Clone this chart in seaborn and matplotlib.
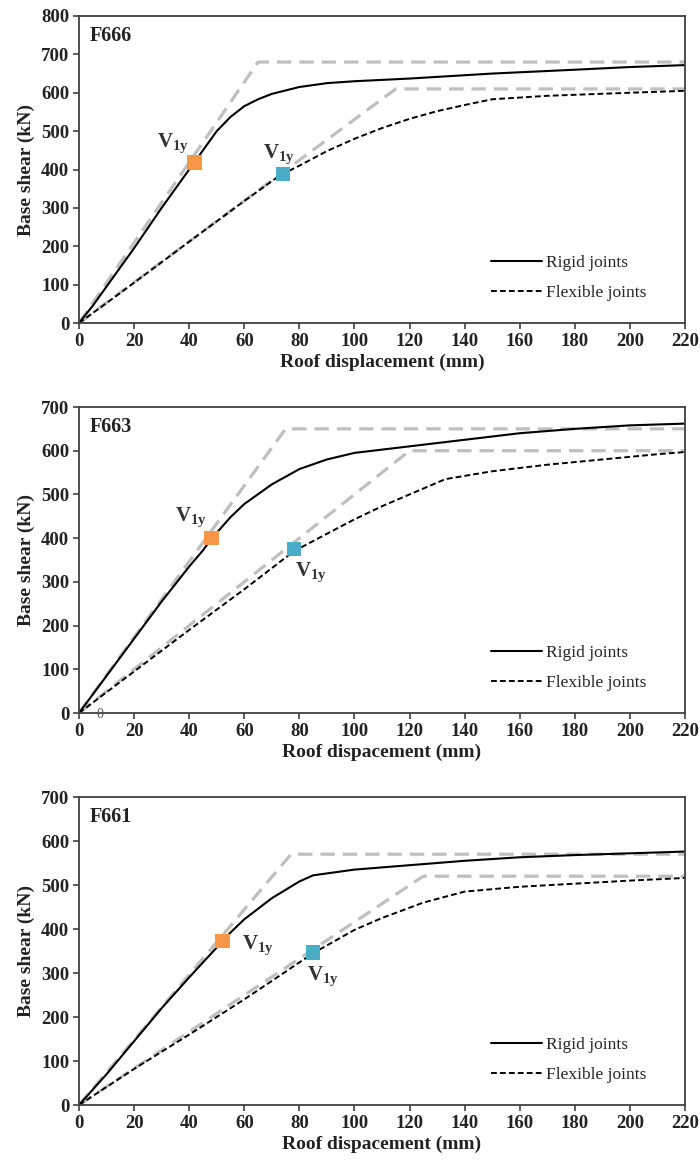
import matplotlib
matplotlib.use("Agg")
import matplotlib.pyplot as plt
import seaborn as sns
import pandas as pd

# ---------------- data ----------------
panel_names = ["F666", "F663", "F661"]
y_max = [800, 700, 700]
x_labels = ["Roof displacement (mm)", "Roof dispacement (mm)", "Roof dispacement (mm)"]

# F666
f666_rigid_x = [0, 5, 10, 20, 30, 40, 45, 50, 55, 60, 65, 70, 80, 90, 100, 120, 150, 180, 200, 220]
f666_rigid_y = [0, 45, 95, 195, 300, 400, 450, 500, 537, 565, 583, 597, 615, 625, 630, 637, 650, 660, 667, 672]
f666_flex_x = [0, 10, 20, 40, 60, 73, 80, 90, 100, 110, 120, 130, 140, 150, 170, 200, 220]
f666_flex_y = [0, 52, 105, 212, 318, 385, 410, 448, 480, 508, 532, 552, 568, 583, 592, 600, 605]
f666_bil_rigid_x = [0, 65, 220]
f666_bil_rigid_y = [0, 680, 680]
f666_bil_flex_x = [0, 115, 220]
f666_bil_flex_y = [0, 610, 610]
f666_v1y_rigid = (42, 418)
f666_v1y_flex = (74, 388)

# F663
f663_rigid_x = [0, 10, 20, 30, 40, 45, 48, 55, 60, 70, 80, 90, 100, 120, 140, 160, 180, 200, 220]
f663_rigid_y = [0, 85, 170, 255, 335, 372, 398, 448, 478, 523, 558, 580, 595, 610, 625, 640, 650, 658, 662]
f663_flex_x = [0, 20, 40, 60, 78, 90, 100, 110, 120, 133, 150, 170, 190, 210, 220]
f663_flex_y = [0, 95, 190, 283, 370, 410, 443, 473, 500, 535, 553, 568, 580, 592, 597]
f663_bil_rigid_x = [0, 75, 220]
f663_bil_rigid_y = [0, 650, 650]
f663_bil_flex_x = [0, 120, 220]
f663_bil_flex_y = [0, 600, 600]
f663_v1y_rigid = (48, 400)
f663_v1y_flex = (78, 375)

# F661
f661_rigid_x = [0, 10, 20, 30, 40, 50, 55, 60, 70, 80, 85, 100, 120, 140, 160, 180, 200, 220]
f661_rigid_y = [0, 70, 145, 220, 290, 358, 392, 422, 470, 508, 522, 535, 545, 555, 563, 568, 572, 576]
f661_flex_x = [0, 20, 40, 60, 85, 100, 110, 125, 140, 160, 180, 200, 220]
f661_flex_y = [0, 82, 160, 240, 345, 398, 425, 460, 485, 496, 503, 510, 516]
f661_bil_rigid_x = [0, 77, 220]
f661_bil_rigid_y = [0, 570, 570]
f661_bil_flex_x = [0, 125, 220]
f661_bil_flex_y = [0, 520, 520]
f661_v1y_rigid = (52, 373)
f661_v1y_flex = (85, 347)

panels = [
    (f666_rigid_x, f666_rigid_y, f666_flex_x, f666_flex_y, f666_bil_rigid_x, f666_bil_rigid_y,
     f666_bil_flex_x, f666_bil_flex_y, f666_v1y_rigid, f666_v1y_flex),
    (f663_rigid_x, f663_rigid_y, f663_flex_x, f663_flex_y, f663_bil_rigid_x, f663_bil_rigid_y,
     f663_bil_flex_x, f663_bil_flex_y, f663_v1y_rigid, f663_v1y_flex),
    (f661_rigid_x, f661_rigid_y, f661_flex_x, f661_flex_y, f661_bil_rigid_x, f661_bil_rigid_y,
     f661_bil_flex_x, f661_bil_flex_y, f661_v1y_rigid, f661_v1y_flex),
]

# label positions (data coords) for V1y texts
v1y_label_rigid = [(28.3, 469, "left"), (34.9, 448, "left"), (59.2, 364, "left")]
v1y_label_flex = [(66.8, 440, "left"), (78.4, 322, "left"), (82.8, 293, "left")]

# ---------------- style ----------------
sns.set_style("ticks")
plt.rcParams["font.family"] = ["Liberation Serif", "DejaVu Serif"]
plt.rcParams["mathtext.fontset"] = "custom"
plt.rcParams["mathtext.rm"] = "Liberation Serif"
plt.rcParams["mathtext.bf"] = "Liberation Serif:bold"
plt.rcParams["mathtext.it"] = "Liberation Serif:italic"

ORANGE = "#F79646"
BLUE = "#4BACC6"
GREY = "#BFBFBF"
AXC = "#404040"

fig = plt.figure(figsize=(7.0, 11.64), dpi=100)
W, H = 700.0, 1164.0
boxes = [(79, 16, 323), (79, 407, 713), (79, 797, 1105)]
right = 685

for i, (box, data) in enumerate(zip(boxes, panels)):
    l, t, b = box
    ax = fig.add_axes([l / W, (H - b) / H, (right - l) / W, (b - t) / H])
    (rx, ry, fx, fy, brx, bry, bfx, bfy, vr, vf) = data

    # bilinear idealisations (grey dashed)
    sns.lineplot(x=brx, y=bry, ax=ax, color=GREY, linewidth=2.3, sort=False, legend=False)
    ax.lines[-1].set_dashes((4.5, 2.5))
    sns.lineplot(x=bfx, y=bfy, ax=ax, color=GREY, linewidth=2.3, sort=False, legend=False)
    ax.lines[-1].set_dashes((4.5, 2.5))

    # capacity curves
    sns.lineplot(x=rx, y=ry, ax=ax, color="black", linewidth=1.5, sort=False, label="Rigid joints")
    h_r = ax.lines[-1]
    sns.lineplot(x=fx, y=fy, ax=ax, color="black", linewidth=1.4, sort=False, label="Flexible joints")
    h_f = ax.lines[-1]
    h_f.set_dashes((3, 1.6))

    # V1y markers
    sns.scatterplot(x=[vr[0]], y=[vr[1]], ax=ax, marker="s", s=110, color=ORANGE,
                    edgecolor="none", zorder=5, legend=False)
    sns.scatterplot(x=[vf[0]], y=[vf[1]], ax=ax, marker="s", s=110, color=BLUE,
                    edgecolor="none", zorder=5, legend=False)

    lx, ly, ha = v1y_label_rigid[i]
    ax.text(lx, ly, r"V$_{\mathbf{1y}}$", fontsize=15, fontweight="bold", color="#333333",
            ha=ha, va="center")
    lx, ly, ha = v1y_label_flex[i]
    ax.text(lx, ly, r"V$_{\mathbf{1y}}$", fontsize=15, fontweight="bold", color="#333333",
            ha=ha, va="center")

    ax.text(0.018, 0.935, panel_names[i], transform=ax.transAxes, fontsize=14.5,
            fontweight="bold", ha="left", va="center", color="#222222")

    ax.set_xlim(0, 220)
    ax.set_ylim(0, y_max[i])
    ax.set_xticks(range(0, 221, 20))
    ax.set_yticks(range(0, y_max[i] + 1, 100))
    for lab in ax.get_xticklabels() + ax.get_yticklabels():
        lab.set_fontweight("bold")
        lab.set_fontsize(13.5)
        lab.set_color("#222222")
    ax.tick_params(axis="both", direction="out", length=4, width=1.2, color=AXC, pad=3)
    for sp in ax.spines.values():
        sp.set_visible(True)
        sp.set_color(AXC)
        sp.set_linewidth(1.3)

    ax.set_xlabel(x_labels[i], fontsize=14, fontweight="bold", color="#222222", labelpad=3)
    ax.set_ylabel("Base shear (kN)", fontsize=14, fontweight="bold", color="#222222", labelpad=4)

    ax.legend(handles=[h_r, h_f], labels=["Rigid joints", "Flexible joints"], loc="lower right",
              bbox_to_anchor=(0.948, 0.05), frameon=False, fontsize=12.5, handlelength=2.95,
              handletextpad=0.25, labelspacing=0.8, borderaxespad=0.0)

    if i == 1:
        ax.text(7.6, -3, "0", fontsize=10, color="#555555", ha="center", va="center", clip_on=False)

fig.savefig("out.png", dpi=100)
